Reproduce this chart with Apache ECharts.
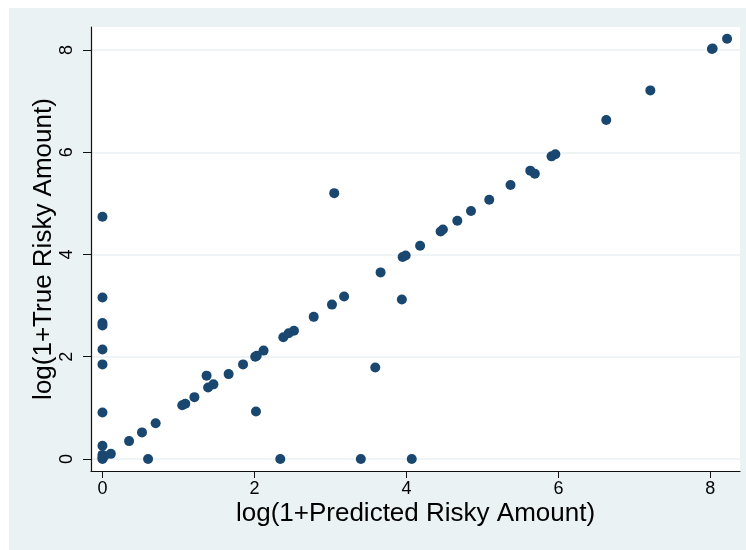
<!DOCTYPE html>
<html>
<head>
<meta charset="utf-8">
<script src="https://cdn.jsdelivr.net/npm/echarts@6/dist/echarts.min.js"></script>
<style>
html,body{margin:0;padding:0;background:#fff;}
#chart{width:746px;height:550px;}
</style>
</head>
<body>
<div id="chart"></div>
<script>
// Data
var predicted = [0, 0, 0, 0, 0, 0, 0, 0, 0, 0, 0, 0.02, 0.11, 0.35, 0.52, 0.70, 0.60, 1.05, 1.09, 1.21,
  1.37, 1.39, 1.46, 1.66, 1.85, 2.01, 2.03, 2.12, 2.02, 2.34, 2.38, 2.45, 2.52, 2.78, 3.02, 3.18,
  3.05, 3.40, 3.59, 3.66, 3.94, 3.95, 3.99, 4.18, 4.07, 4.45, 4.48, 4.67, 4.85, 5.09, 5.37, 5.63,
  5.69, 5.91, 5.96, 6.63, 7.21, 8.02, 8.03, 8.22];
var trueVals = [4.74, 3.16, 2.66, 2.61, 2.14, 1.85, 0.91, 0.26, 0.08, 0.03, 0, 0.05, 0.10, 0.35, 0.52, 0.70, 0, 1.05, 1.08, 1.21,
  1.63, 1.40, 1.46, 1.66, 1.85, 2.00, 2.02, 2.12, 0.93, 0, 2.38, 2.46, 2.51, 2.78, 3.02, 3.18,
  5.20, 0, 1.79, 3.65, 3.12, 3.95, 3.98, 4.17, 0, 4.45, 4.49, 4.66, 4.85, 5.07, 5.36, 5.64,
  5.58, 5.92, 5.96, 6.63, 7.21, 8.02, 8.03, 8.22];
var xTicks = [0, 2, 4, 6, 8];
var yTicks = [0, 2, 4, 6, 8];
var xTitle = 'log(1+Predicted Risky Amount)';
var yTitle = 'log(1+True Risky Amount)';

var points = predicted.map(function (v, i) { return [v, trueVals[i]]; });

var chart = echarts.init(document.getElementById('chart'), null, {renderer: 'canvas'});
var font = '"Liberation Sans", Arial, sans-serif';
chart.setOption({
  backgroundColor: '#ffffff',
  animation: false,
  graphic: [{
    type: 'rect', z: -10, silent: true,
    shape: {x: 9, y: 8, width: 737, height: 542},
    style: {fill: '#EAF2F3'}
  }],
  grid: {
    left: 91, right: 6, top: 27, bottom: 79,
    show: true, backgroundColor: '#ffffff', borderWidth: 0
  },
  xAxis: {
    type: 'value',
    min: -0.151, max: 8.39,
    name: xTitle,
    nameLocation: 'middle',
    nameGap: 30,
    nameMoveOverlap: false,
    nameTextStyle: {fontSize: 26, color: '#000', fontFamily: font},
    axisLine: {show: true, onZero: false, lineStyle: {color: '#111', width: 1.2}},
    axisTick: {show: true, length: 7, customValues: xTicks, lineStyle: {color: '#111'}},
    axisLabel: {customValues: xTicks, fontSize: 18, color: '#000', fontFamily: font, margin: 9},
    splitLine: {show: false}
  },
  yAxis: {
    type: 'value',
    min: -0.235, max: 8.45,
    name: yTitle,
    nameLocation: 'middle',
    nameGap: 34,
    nameRotate: 90,
    nameMoveOverlap: false,
    nameTextStyle: {fontSize: 26, color: '#000', fontFamily: font},
    axisLine: {show: true, onZero: false, lineStyle: {color: '#111', width: 1.2}},
    axisTick: {show: true, length: 8, customValues: yTicks, lineStyle: {color: '#111'}},
    axisLabel: {customValues: yTicks, rotate: 90, fontSize: 18, color: '#000', fontFamily: font, margin: 15},
    splitLine: {show: true, lineStyle: {color: '#EAF2F3', width: 1.5}}
  },
  series: [{
    type: 'scatter',
    data: points,
    symbol: 'circle',
    symbolSize: 10,
    itemStyle: {color: '#1a476f', opacity: 1}
  }]
});
</script>
</body>
</html>
